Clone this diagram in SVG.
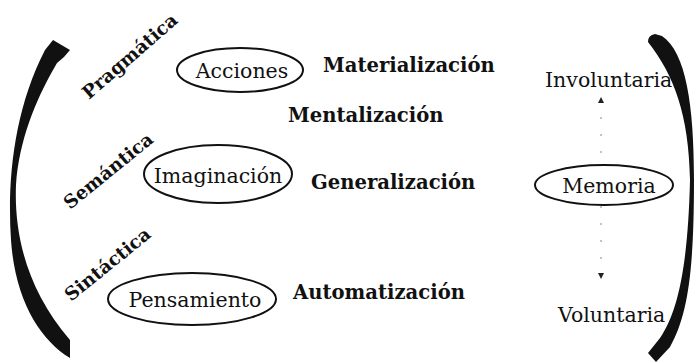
<svg xmlns="http://www.w3.org/2000/svg" width="696" height="363" viewBox="0 0 696 363">
<style>
.reg{font-family:"DejaVu Serif","Liberation Serif",serif;font-size:20.5px;fill:#111}
.bold{font-family:"DejaVu Serif","Liberation Serif",serif;font-size:19.6px;font-weight:bold;fill:#111}
.rot{font-family:"DejaVu Serif","Liberation Serif",serif;font-size:18.5px;font-weight:bold;fill:#111}
.ell{fill:none;stroke:#111;stroke-width:2}
.arc{fill:#111;stroke:none}
.dot{stroke:#888;stroke-width:1;stroke-dasharray:2 15;fill:none}
</style>
<defs>
<marker id="tip" viewBox="0 0 6 6" refX="3" refY="3" markerWidth="6" markerHeight="6" orient="auto-start-reverse" markerUnits="userSpaceOnUse">
<path d="M0,0 L6,3 L0,6 Z" fill="#222"/>
</marker>
</defs>
<rect width="696" height="363" fill="#fff"/>
<g id="connectors">
<path class="arc" d="M45,50 L53,40 L70,50 L64,57 L57,63 L53,70 C36,100 19,140 16,185 C14,235 27,290 70,340 L70,358 C40,340 15,300 11,240 C7,180 14,110 45,50 Z"/>
<path class="arc" d="M648,42 Q648,35 655,34 L662,36 C686,52 694,105 694,180 C694,270 688,315 670,347 L656,362 L648,353 L660,338 C678,312 688,265 690,180 C689,115 674,75 648,42 Z"/>
<line class="dot" x1="601" y1="100" x2="601" y2="165" marker-start="url(#tip)"/>
<line class="dot" x1="601" y1="206" x2="601" y2="276" marker-end="url(#tip)"/>
</g>
<g id="pragmatica"><text class="rot" transform="translate(89,100) rotate(-41)">Pragmática</text></g>
<g id="semantica"><text class="rot" transform="translate(70,210) rotate(-39)">Semántica</text></g>
<g id="sintactica"><text class="rot" transform="translate(71,302) rotate(-39)">Sintáctica</text></g>
<g id="acciones">
<ellipse class="ell" cx="240" cy="70" rx="63" ry="22"/>
<text class="reg" x="242" y="78" text-anchor="middle">Acciones</text>
</g>
<g id="imaginacion">
<ellipse class="ell" cx="218" cy="174" rx="74" ry="29"/>
<text class="reg" x="218" y="183" text-anchor="middle">Imaginación</text>
</g>
<g id="pensamiento">
<ellipse class="ell" cx="192" cy="299" rx="84" ry="26"/>
<text class="reg" x="195" y="307" text-anchor="middle">Pensamiento</text>
</g>
<g id="memoria">
<ellipse class="ell" cx="604" cy="185" rx="69" ry="20"/>
<text class="reg" x="609" y="193" text-anchor="middle">Memoria</text>
</g>
<g id="materializacion"><text class="bold" x="323" y="72">Materialización</text></g>
<g id="mentalizacion"><text class="bold" x="288" y="122">Mentalización</text></g>
<g id="generalizacion"><text class="bold" x="311" y="189">Generalización</text></g>
<g id="automatizacion"><text class="bold" x="293" y="299">Automatización</text></g>
<g id="involuntaria"><text class="reg" x="545" y="87">Involuntaria</text></g>
<g id="voluntaria"><text class="reg" x="558" y="322">Voluntaria</text></g>
</svg>
